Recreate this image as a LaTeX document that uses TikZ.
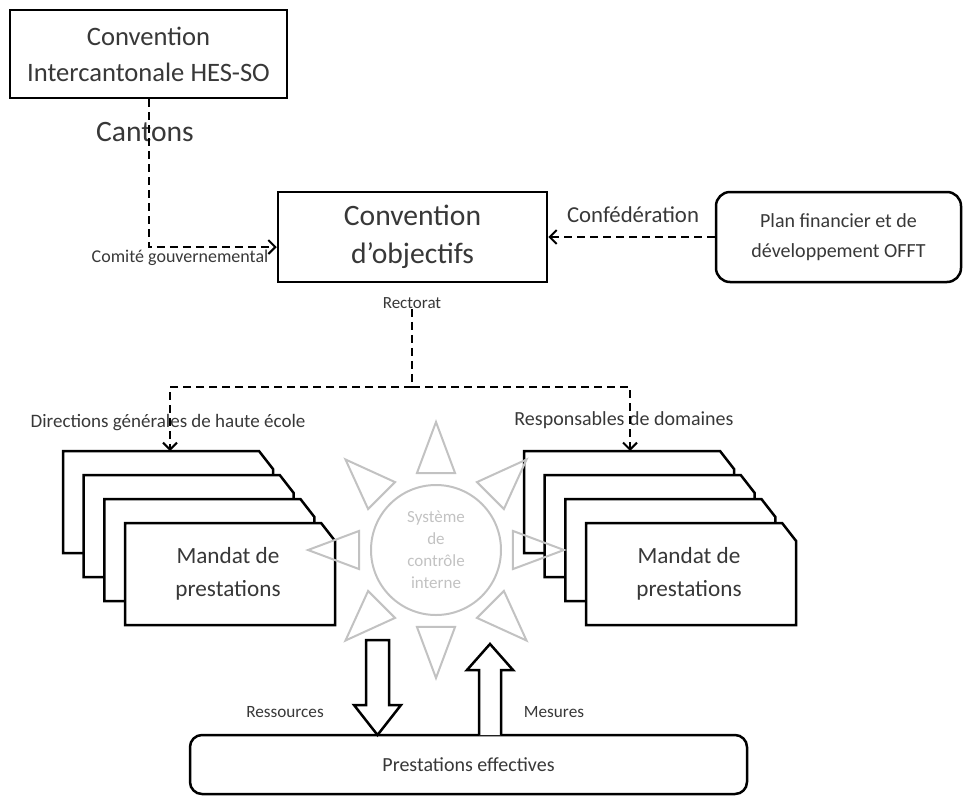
\documentclass[tikz,border=0pt]{standalone}
\usepackage{fontspec}
\setmainfont{Carlito}
\usetikzlibrary{arrows.meta,positioning}
\definecolor{textgray}{gray}{0.22}
\definecolor{sungray}{gray}{0.76}
\newcommand{\fs}[2]{\fontsize{#1}{#2}\selectfont}

\begin{document}
\begin{tikzpicture}[
    x=0.5pt, y=-0.5pt,
    >={Straight Barb[length=3.5pt,width=7pt]},
    every node/.style={text=textgray, align=center, inner sep=0pt},
    box/.style={draw=black, line width=1.25pt, fill=white},
    dashline/.style={draw=black, line width=1pt, dash pattern=on 4pt off 2.5pt},
    sheet/.style={draw=black, line width=1.25pt, fill=white},
    sunray/.style={draw=sungray, line width=1pt, line join=miter},
    block/.style={draw=black, line width=1.25pt, fill=white}]

    \useasboundingbox (0,0) rectangle (964,798);

    \node[box, minimum width=138.5pt, minimum height=44pt, font=\fs{13.3}{18}] (hesso) at (148.5,54) {Convention\\Intercantonale HES-SO};
    \node[box, minimum width=134.5pt, minimum height=45pt, font=\fs{14.8}{19}] (obj) at (412.5,237) {Convention\\d’objectifs};
    \node[box, rounded corners=7pt, minimum width=122.5pt, minimum height=45pt, font=\fs{10}{15}] (offt) at (838.5,237) {Plan financier et de\\développement OFFT};

    \node[font=\fs{14.8}{18}] (cantons) at (145,132) {Cantons};
    \node[font=\fs{9}{11}] (comite) at (180,258) {Comité gouvernemental};
    \node[font=\fs{11.4}{14}] (confed) at (633,215) {Confédération};
    \node[font=\fs{8.5}{10}] (rect) at (412,303) {Rectorat};

    \draw[dashline,->] (hesso.south) |- ([yshift=-5pt]obj.west);
    \draw[dashline,->] (offt.west) -- (obj.east);

    % piles of mandates
    \foreach \sx/\sn in {63/l, 524/r} {
      \foreach \i in {0,...,3}
        \draw[sheet] ({\sx+20.7*\i},{451+24*\i}) -- ++(196,0) -- ++(14,18) -- ++(0,84) -- ++(-210,0) -- cycle;
      \node[font=\fs{11.6}{16.5}] (mandat\sn) at ({\sx+165},574) {Mandat de\\prestations};
    }
    \coordinate (ltop) at (170,451);
    \coordinate (rtop) at (630,451);
    \coordinate (split) at (412,387);

    \node[font=\fs{9.5}{11}] (dir) at (168,423) {Directions générales de haute école};
    \node[font=\fs{10}{12}] (resp) at (624,420) {Responsables de domaines};

    \draw[dashline] (rect.south) -- (split);
    \draw[dashline,->] (split) -| (ltop);
    \draw[dashline,->] (split) -| (rtop);

    % control system
    \begin{scope}[shift={(436,550)}]
      \foreach \a in {0,45,...,315}
        \draw[sunray] (\a-13.9:79.3) -- (\a:128) -- (\a+13.9:79.3) -- cycle;
    \end{scope}
    \node[draw=sungray, line width=1pt, circle, minimum size=65pt, text=sungray, font=\fs{8.5}{11}] (sys) at (436,550) {Système\\de\\contrôle\\interne};

    \node[box, rounded corners=6pt, minimum width=278.5pt, minimum height=29.5pt, font=\fs{10}{12}] (effect) at (468.5,764.5) {Prestations effectives};

    \draw[block] (366,640) -- (389,640) -- (389,705) -- (401,705) -- (377.5,735) -- (354,705) -- (366,705) -- cycle;
    \draw[block] (479,735) -- (479,670) -- (467,670) -- (490,644) -- (513,670) -- (501,670) -- (501,735);

    \node[font=\fs{8.6}{10}] (ress) at (285,712) {Ressources};
    \node[font=\fs{8.6}{10}] (mes) at (554,712) {Mesures};

\end{tikzpicture}
\end{document}
